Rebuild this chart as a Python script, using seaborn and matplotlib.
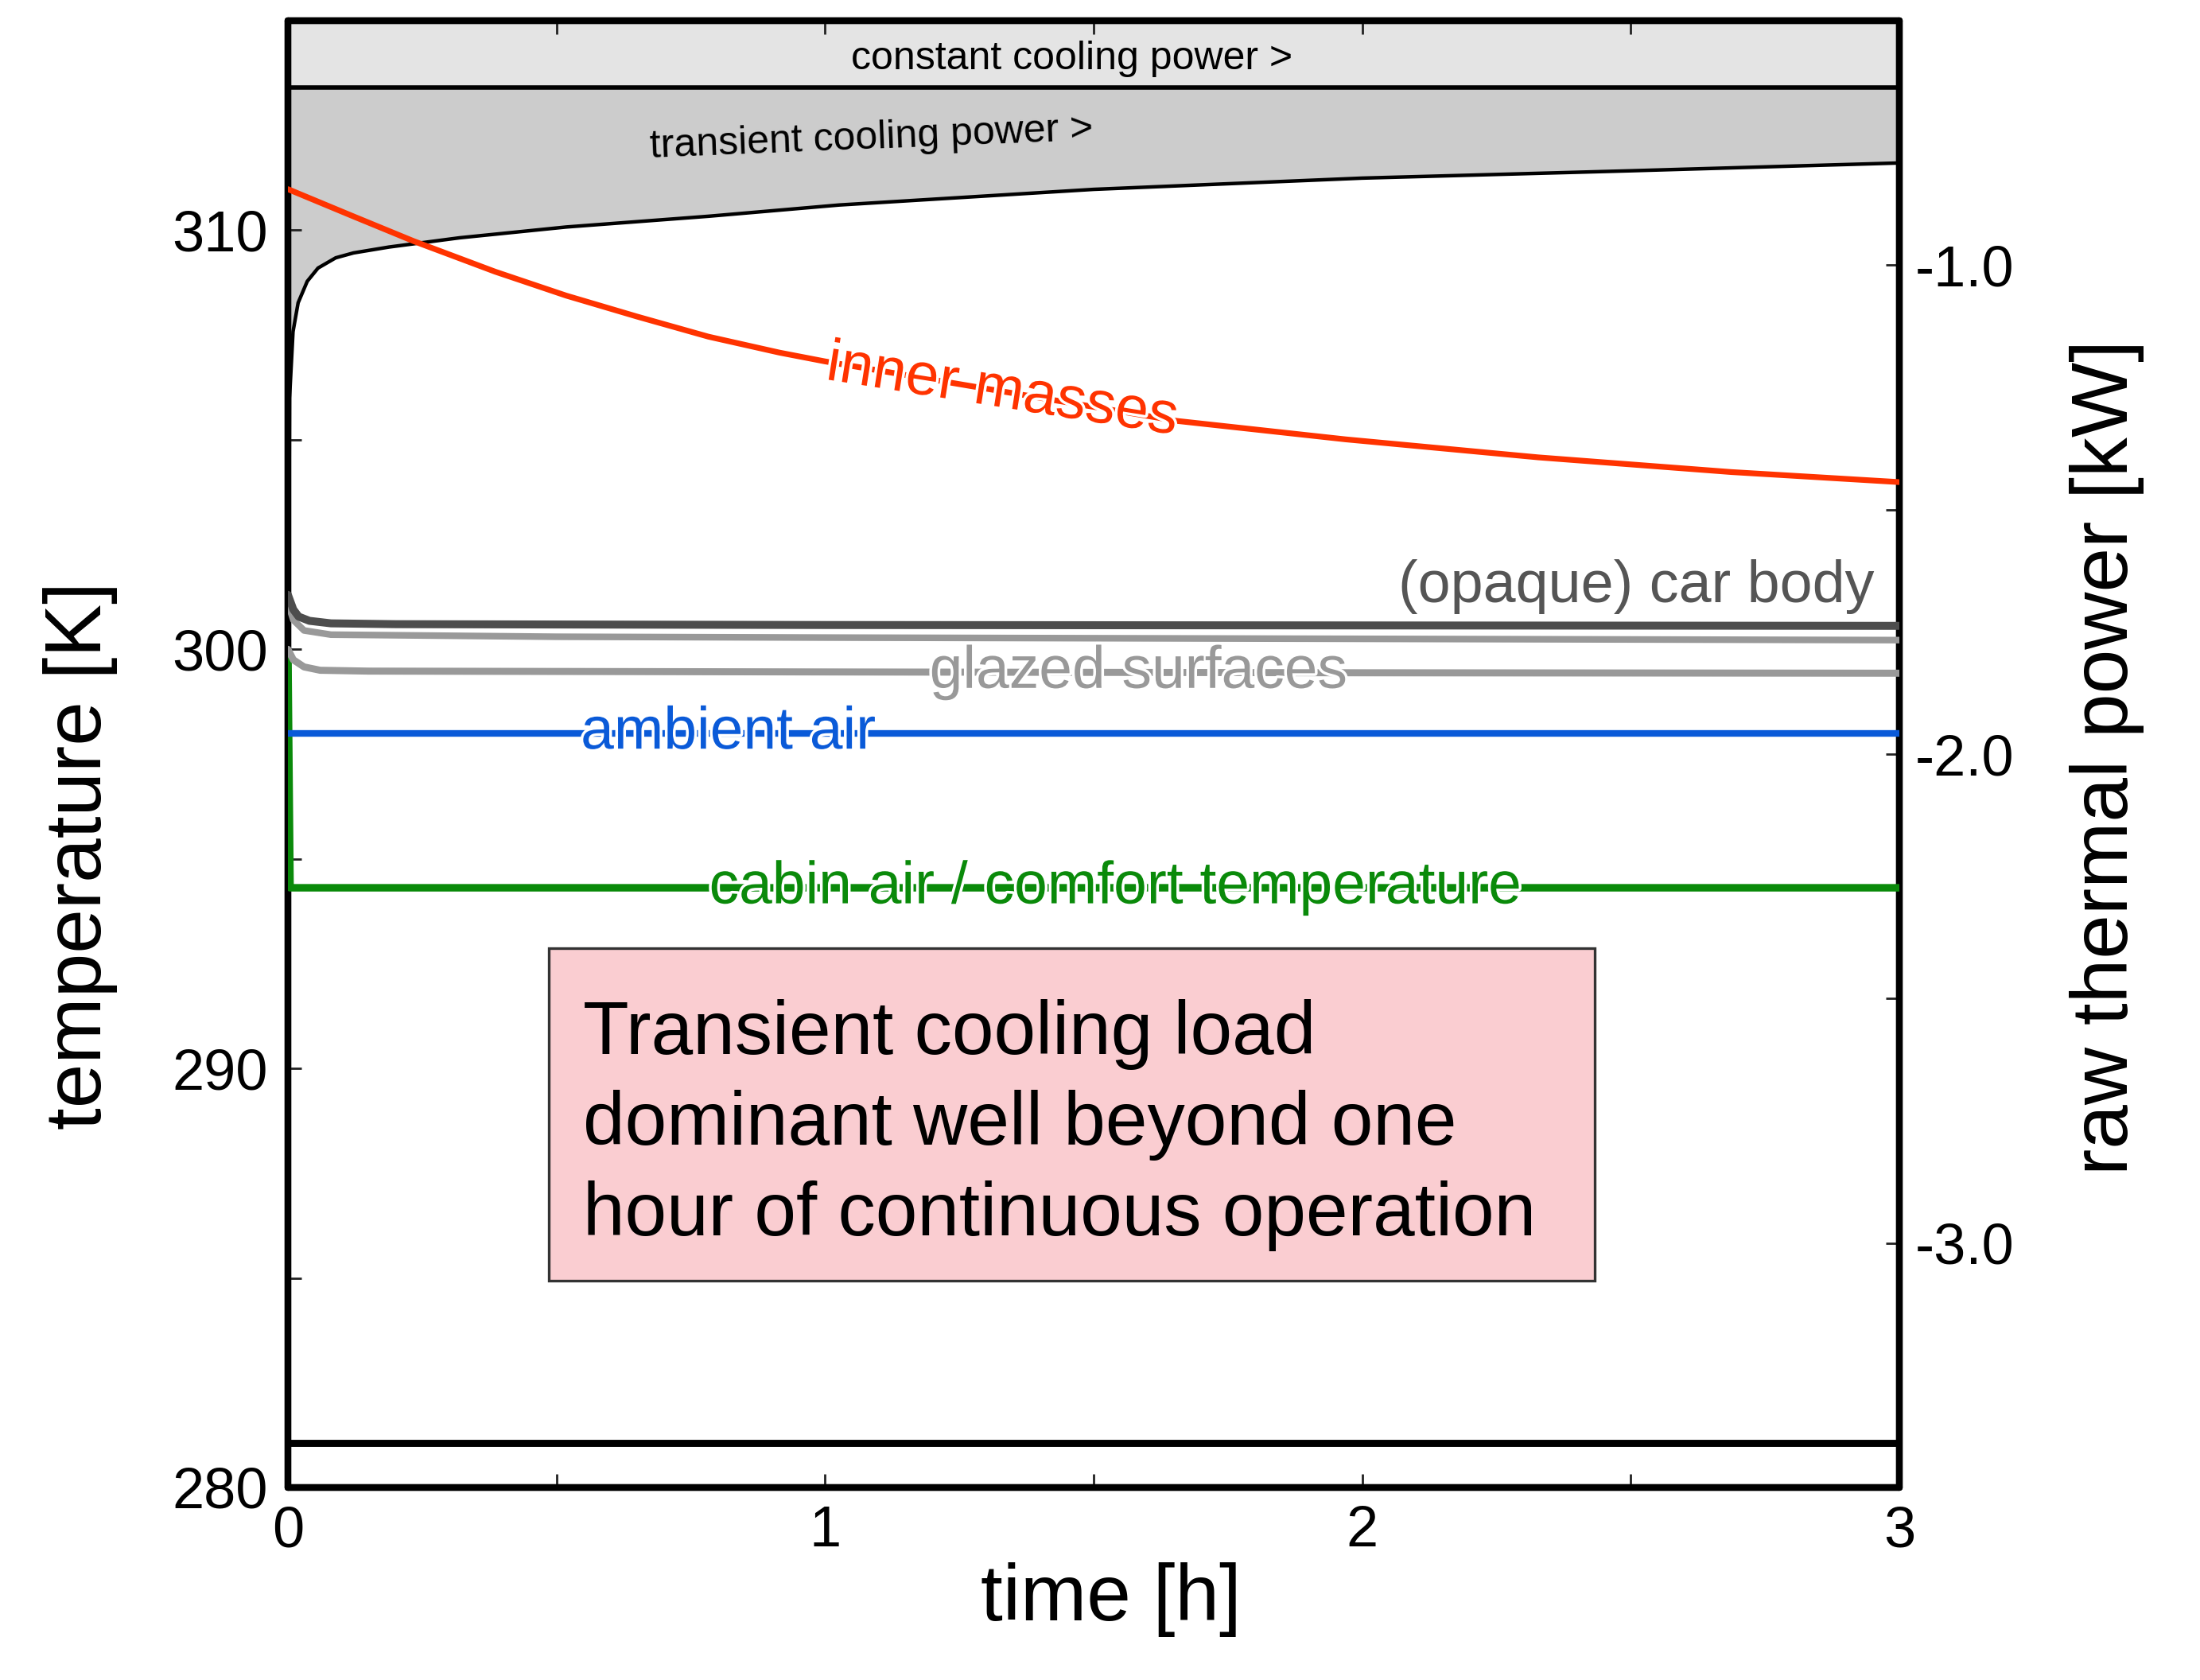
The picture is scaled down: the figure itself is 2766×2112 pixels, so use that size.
import numpy as np
import pandas as pd
import matplotlib
matplotlib.use("Agg")
import matplotlib.pyplot as plt
import matplotlib.patheffects as pe
from matplotlib.patches import Rectangle
import seaborn as sns

# ---------------- data ----------------
# temperatures [K] vs time [h]
inner_t = [0.0, 0.122, 0.234, 0.386, 0.518, 0.650, 0.783, 0.915, 1.0,
           1.655, 1.969, 2.328, 2.687, 3.0]
inner_T = [310.98, 310.33, 309.74, 309.01, 308.44, 307.94, 307.46, 307.08, 306.87,
           305.45, 305.01, 304.58, 304.23, 303.99]

body_t = [0.0, 0.01, 0.02, 0.04, 0.08, 0.2, 1.0, 2.0, 3.0]
body_T = [301.3, 300.95, 300.78, 300.68, 300.62, 300.60, 300.58, 300.57, 300.56]

body2_t = [0.0, 0.01, 0.03, 0.08, 0.5, 1.0, 2.0, 3.0]
body2_T = [301.1, 300.7, 300.45, 300.35, 300.30, 300.28, 300.25, 300.22]

glazed_t = [0.0, 0.01, 0.03, 0.06, 0.15, 1.0, 2.0, 3.0]
glazed_T = [300.0, 299.75, 299.58, 299.50, 299.48, 299.46, 299.44, 299.43]

ambient_t = [0.0, 3.0]
ambient_T = [298.0, 298.0]

cabin_t = [0.0, 0.004, 3.0]
cabin_T = [299.9, 294.31, 294.31]

# raw thermal power [kW] vs time [h]
transient_t = [0.0, 0.0008, 0.002, 0.003, 0.0095, 0.019, 0.036, 0.056, 0.089, 0.122,
               0.188, 0.320, 0.518, 0.783, 1.026, 1.5, 2.0, 2.5, 3.0]
transient_P = [-3.409, -2.4, -1.6, -1.272, -1.136, -1.077, -1.033, -1.006, -0.985, -0.975,
               -0.963, -0.944, -0.922, -0.900, -0.877, -0.845, -0.822, -0.807, -0.791]
constant_t = [0.0, 3.0]
constant_P = [-0.637, -0.637]
base_t = [0.0, 3.0]
base_P = [-3.409, -3.409]

# ticks
x_ticks = [0, 0.5, 1, 1.5, 2, 2.5, 3]
x_ticklabels = ["0", "", "1", "", "2", "", "3"]
yl_ticks = [280, 285, 290, 295, 300, 305, 310, 315]
yl_ticklabels = ["280", "", "290", "", "300", "", "310", ""]
yr_ticks = [-3.5, -3.0, -2.5, -2.0, -1.5, -1.0, -0.5]
yr_ticklabels = ["", "-3.0", "", "-2.0", "", "-1.0", ""]

# ---------------- style ----------------
sns.set_theme(style="white")
plt.rcParams['font.family'] = ['Liberation Sans', 'DejaVu Sans']
plt.rcParams['axes.unicode_minus'] = False
plt.rcParams['text.color'] = 'black'
plt.rcParams['axes.labelcolor'] = 'black'
plt.rcParams['xtick.color'] = 'black'
plt.rcParams['ytick.color'] = 'black'

C_RED = "#ff3300"
C_DARK = "#4d4d4d"
C_GREY = "#999999"
C_BLUE = "#0a5ad8"
C_GREEN = "#0a8a0a"

fig = plt.figure(figsize=(13.83, 10.56), dpi=200)
ax = fig.add_axes([362 / 2766, 242 / 2112, 2026 / 2766, 1844 / 2112])
ax2 = ax.twinx()
ax.set_zorder(ax2.get_zorder() + 1)
ax.patch.set_visible(False)
ax2.set_facecolor("white")

# ---------------- power (right axis) ----------------
ax2.fill_between(constant_t, constant_P, -0.5, color="#e4e4e4", lw=0, zorder=1)
ax2.fill_between(transient_t, transient_P, constant_P[0], color="#cccccc", lw=0, zorder=1)
sns.lineplot(x=constant_t, y=constant_P, ax=ax2, color="black", lw=2.0, zorder=3)
sns.lineplot(x=transient_t, y=transient_P, ax=ax2, color="black", lw=1.6, zorder=3)
sns.lineplot(x=base_t, y=base_P, ax=ax2, color="black", lw=3.2, zorder=3)

# ---------------- temperatures (left axis) ----------------
sns.lineplot(x=cabin_t, y=cabin_T, ax=ax, color=C_GREEN, lw=3.4, zorder=3)
sns.lineplot(x=ambient_t, y=ambient_T, ax=ax, color=C_BLUE, lw=3.0, zorder=3)
sns.lineplot(x=glazed_t, y=glazed_T, ax=ax, color=C_GREY, lw=3.2, zorder=3)
sns.lineplot(x=body2_t, y=body2_T, ax=ax, color=C_GREY, lw=3.0, zorder=3)
sns.lineplot(x=body_t, y=body_T, ax=ax, color=C_DARK, lw=3.6, zorder=3)
sns.lineplot(x=inner_t, y=inner_T, ax=ax, color=C_RED, lw=2.6, zorder=4)

halo = [pe.withStroke(linewidth=2.5, foreground="white")]
ax.text(1.33, 306.15, "inner masses", color=C_RED, fontsize=27, ha="center", va="center",
        rotation=-9, rotation_mode="anchor", path_effects=halo, zorder=6)
ax.text(1.583, 299.45, "glazed surfaces", color=C_GREY, fontsize=27, ha="center", va="center",
        path_effects=halo, zorder=6)
ax.text(0.8196, 298.0, "ambient air", color=C_BLUE, fontsize=27, ha="center", va="center",
        path_effects=halo, zorder=6)
ax.text(1.54, 294.31, "cabin air / comfort temperature", color=C_GREEN, fontsize=27,
        ha="center", va="center", path_effects=halo, zorder=6)
ax.text(2.954, 301.13, "(opaque) car body", color="#555555", fontsize=26.5,
        ha="right", va="baseline", zorder=6)

ax2.text(1.46, -0.600, "constant cooling power >", color="black", fontsize=18,
         ha="center", va="baseline", zorder=6)
ax2.text(1.087, -0.762, "transient cooling power >", color="black", fontsize=18,
         ha="center", va="baseline", rotation=2.3, rotation_mode="anchor", zorder=6)

# annotation box
ax.add_patch(Rectangle((0.4855, 284.93), 2.433 - 0.4855, 292.87 - 284.93,
                       facecolor="#facdd1", edgecolor="#333333", lw=1.2, zorder=5))
ax.text(0.550, 286.02, "Transient cooling load\ndominant well beyond one\nhour of continuous operation",
        fontsize=34, color="black", ha="left", va="baseline", linespacing=1.36, zorder=6)

# ---------------- axes ----------------
ax.set_xlim(0, 3)
ax.set_ylim(280, 315)
ax2.set_ylim(-3.5, -0.5)

ax.set_xticks(x_ticks)
ax.set_xticklabels(x_ticklabels)
ax.set_yticks(yl_ticks)
ax.set_yticklabels(yl_ticklabels)
ax2.set_yticks(yr_ticks)
ax2.set_yticklabels(yr_ticklabels)

ax.tick_params(axis="both", which="major", direction="in", length=6, width=1.0,
               color="#222222", labelcolor="black", labelsize=26, top=True, bottom=True,
               left=True, right=False, labeltop=False)
ax.tick_params(axis="y", pad=9)
ax.tick_params(axis="x", pad=8)
ax2.tick_params(axis="y", direction="in", length=6, width=1.0, color="#222222",
                labelcolor="black", labelsize=26, pad=7, right=True, left=False)

ax.set_xlabel("time [h]", fontsize=36, ha="center", va="center", color="black")
ax.xaxis.set_label_coords(0.511, -0.0765)
ax.set_ylabel("temperature [K]", fontsize=36, ha="center", va="center", color="black")
ax.yaxis.set_label_coords(-0.129, 0.4306)
ax2.set_ylabel("raw thermal power [kW]", fontsize=36, ha="center", va="center",
               rotation=90, color="black")
ax2.yaxis.set_label_coords(1.129, 0.498)

for a in (ax, ax2):
    for s in a.spines.values():
        s.set_visible(True)
        s.set_color("black")
        s.set_linewidth(3.0)
        s.set_capstyle("round")
        s.set_joinstyle("round")

fig.savefig("out.png", dpi=200, facecolor="white")
